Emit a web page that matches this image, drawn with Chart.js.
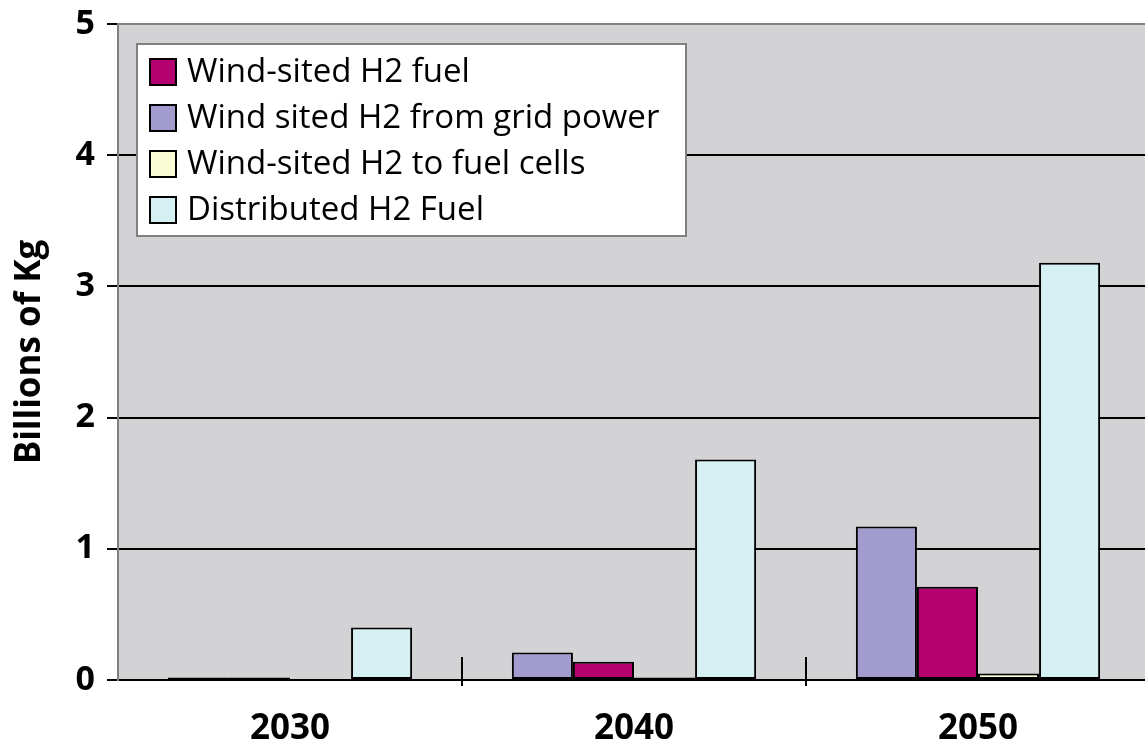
<!DOCTYPE html>
<html>
<head>
<meta charset="utf-8">
<script src="https://cdn.jsdelivr.net/npm/chart.js@4.4.1/dist/chart.umd.min.js"></script>
<style>
  html, body { margin: 0; padding: 0; background: #fff; overflow: hidden; }
  #wrap { width: 1150px; height: 744px; position: relative; }
</style>
</head>
<body>
<div id="wrap"><canvas id="grafico"></canvas></div>
<script>
// datos
const years = ["2030", "2040", "2050"];
const gridPower = [0.02, 0.21, 1.17];
const windFuel = [0.02, 0.14, 0.71];
const fuelCells = [0, 0.02, 0.05];
const distributed = [0.40, 1.68, 3.18];
const yTicks = [0, 1, 2, 3, 4, 5];

const FONT = "'Open Sans', 'Liberation Sans', sans-serif";

// orden de la leyenda (indice de dataset)
const legendOrder = [1, 0, 2, 3];

// fondo gris del area de grafico
const plotBg = {
  id: "plotBg",
  beforeDraw(chart) {
    const { ctx, chartArea: a } = chart;
    ctx.save();
    ctx.fillStyle = "#d3d3d5";
    ctx.fillRect(a.left, a.top, a.right - a.left, a.bottom - a.top);
    ctx.restore();
  }
};

// marcas cortas entre categorias
const dividers = {
  id: "dividers",
  afterDraw(chart) {
    const { ctx, chartArea: a } = chart;
    const x = chart.scales.x;
    ctx.save();
    ctx.strokeStyle = "#000";
    ctx.lineWidth = 2;
    for (let i = 0; i < years.length - 1; i++) {
      const px = (x.getPixelForValue(i) + x.getPixelForValue(i + 1)) / 2;
      ctx.beginPath();
      ctx.moveTo(px, a.bottom - 23);
      ctx.lineTo(px, a.bottom + 6);
      ctx.stroke();
    }
    ctx.restore();
  }
};

// leyenda dentro del area
const boxLegend = {
  id: "boxLegend",
  afterDraw(chart) {
    const { ctx } = chart;
    const bx = 137, by = 44, bw = 549, bh = 192;
    ctx.save();
    ctx.fillStyle = "#fff";
    ctx.fillRect(bx, by, bw, bh);
    ctx.strokeStyle = "#808080";
    ctx.lineWidth = 2;
    ctx.strokeRect(bx, by, bw, bh);
    ctx.font = "33px " + FONT;
    ctx.textBaseline = "middle";
    legendOrder.forEach((di, row) => {
      const ds = chart.data.datasets[di];
      const cy = 72 + row * 46;
      ctx.fillStyle = ds.backgroundColor;
      ctx.fillRect(150, cy - 13, 26, 26);
      ctx.strokeStyle = "#000";
      ctx.lineWidth = 2;
      ctx.strokeRect(150, cy - 13, 26, 26);
      ctx.fillStyle = "#000";
      ctx.fillText(ds.label, 187, cy + 1);
    });
    ctx.restore();
  }
};

const barStyle = { borderColor: "#000", borderWidth: 2, borderSkipped: false };

new Chart(document.getElementById("grafico"), {
  type: "bar",
  data: {
    labels: years,
    datasets: [
      { label: "Wind sited H2 from grid power", data: gridPower, backgroundColor: "#a29bce", ...barStyle },
      { label: "Wind-sited H2 fuel", data: windFuel, backgroundColor: "#b5006f", ...barStyle },
      { label: "Wind-sited H2 to fuel cells", data: fuelCells, backgroundColor: "#f8fbd4", ...barStyle },
      { label: "Distributed H2 Fuel", data: distributed, backgroundColor: "#d5f0f3", ...barStyle }
    ]
  },
  options: {
    responsive: true,
    maintainAspectRatio: false,
    animation: false,
    layout: { padding: { top: 24, left: 0, right: 0, bottom: 0 } },
    datasets: { bar: { categoryPercentage: 0.71, barPercentage: 1.0 } },
    plugins: {
      legend: { display: false },
      tooltip: { enabled: false }
    },
    scales: {
      x: {
        afterFit(scale) { scale.height = 64; },
        grid: { display: false, drawTicks: false },
        border: { display: true, color: "#000", width: 2 },
        ticks: { color: "#000", padding: 32, font: { family: FONT, size: 35, weight: "bold", lineHeight: 1 } }
      },
      y: {
        min: 0,
        max: 5,
        afterFit(scale) { scale.width = 118; scale.paddingTop = 0; },
        afterBuildTicks(axis) { axis.ticks = yTicks.map(v => ({ value: v })); },
        grid: {
          color: ctx => (ctx.tick && ctx.tick.value === 5 ? "#808080" : "#000"),
          lineWidth: 2,
          drawTicks: true,
          tickLength: 11,
          tickColor: "#000"
        },
        border: { display: true, color: "#808080", width: 2 },
        ticks: { color: "#000", padding: 12, font: { family: FONT, size: 34, weight: "bold", lineHeight: 1 } },
        title: {
          display: true,
          text: "Billions of Kg",
          color: "#000",
          padding: { top: 9, bottom: 25 },
          font: { family: FONT, size: 35, weight: "bold" }
        }
      }
    }
  },
  plugins: [plotBg, dividers, boxLegend]
});
</script>
</body>
</html>
